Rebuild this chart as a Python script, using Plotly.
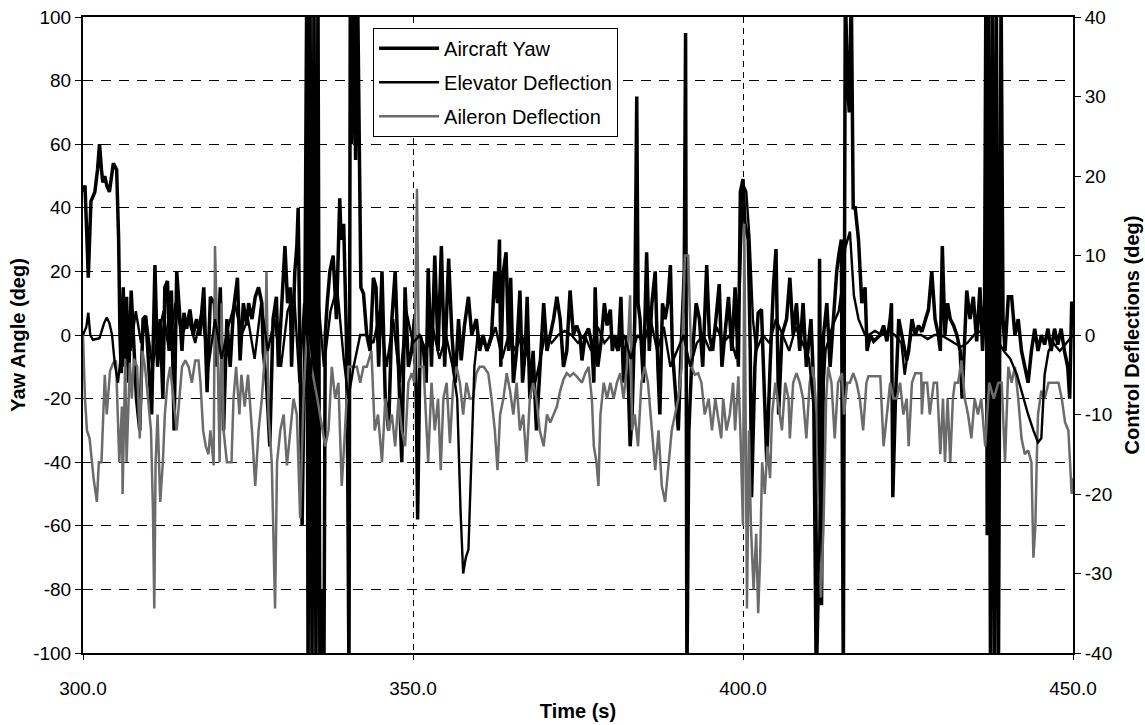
import plotly.graph_objects as go

# ---------------- data ----------------
yaw_t = [300.0,300.3,300.6,300.8,301.2,301.8,302.2,302.5,302.8,303.0,303.3,303.6,304.0,304.3,304.6,305.1,305.4,305.6,305.8,306.1,
 306.3,306.6,306.9,307.3,307.7,308.1,308.6,309.1,309.5,309.9,310.4,310.9,311.3,311.7,312.1,312.4,312.8,313.1,313.4,313.8,
 314.2,314.6,315.0,315.3,315.7,316.2,316.7,317.2,317.7,318.3,318.8,319.3,319.9,320.3,320.8,321.3,321.8,322.3,322.8,323.4,
 323.8,324.3,324.8,325.1,325.6,326.1,326.6,327.1,327.3,327.8,328.3,328.8,329.3,329.6,330.1,330.6,331.0,331.4,331.6,332.1,
 332.4,332.6,332.9,333.2,333.6,333.9,334.1,334.4,334.7,335.0,335.3,335.6,335.9,336.2,336.5,336.7,337.0,337.4,337.9,338.4,
 338.9,339.1,339.5,339.9,340.1,340.3,340.5,340.7,341.0,341.3,341.6,341.9,342.1,342.5,343.0,343.5,344.0,344.4,344.8,345.3,
 345.8,346.3,346.8,347.3,347.8,348.3,348.8,349.3,349.8,350.2,350.5,350.7,351.1,351.6,352.0,352.3,352.8,353.3,353.8,354.3,
 354.8,355.4,355.9,356.4,356.9,357.3,357.8,358.4,358.9,359.6,360.1,360.6,361.2,361.9,362.4,362.8,363.1,363.3,363.7,364.1,
 364.5,364.8,365.2,365.7,366.2,366.6,367.0,367.3,367.7,368.2,368.7,369.2,369.8,370.3,370.8,371.3,371.8,372.3,372.8,373.3,
 373.8,374.3,374.8,375.3,375.6,376.1,376.6,377.1,377.4,377.6,378.0,378.5,379.0,379.4,379.9,380.2,380.6,381.1,381.5,381.9,
 382.4,382.9,383.2,383.6,383.9,384.1,384.4,384.9,385.4,385.8,386.2,386.7,387.1,387.4,387.8,388.2,388.6,389.0,389.3,389.7,
 390.2,390.7,391.1,391.3,391.5,391.8,392.2,392.9,393.4,393.9,394.5,394.9,395.4,395.9,396.4,396.8,397.8,398.3,398.8,399.3,
 399.6,400.0,400.3,400.8,401.1,401.3,401.8,402.3,402.8,403.1,403.6,404.1,404.6,405.0,405.4,405.9,406.6,407.1,407.6,408.1,
 408.6,409.1,409.6,410.3,410.7,411.1,411.4,411.6,411.9,412.2,412.7,413.2,413.7,414.2,414.5,414.9,415.2,415.5,415.8,416.1,
 416.4,416.7,417.0,417.5,418.0,418.5,418.8,419.3,419.8,420.8,421.3,421.8,422.3,422.5,422.7,423.1,423.6,424.1,424.8,425.1,
 425.6,426.1,426.6,427.1,427.6,428.1,428.6,429.1,429.6,429.9,430.2,430.6,431.0,431.4,431.9,432.4,432.9,433.2,433.9,434.4,
 434.9,435.4,435.9,436.3,436.6,436.8,437.0,437.2,437.5,437.8,438.1,438.4,438.7,439.1,439.4,439.7,440.2,440.7,441.2,441.7,
 442.2,442.7,443.2,443.7,444.2,444.7,445.2,445.7,446.2,446.7,447.2,447.7,448.2,448.7,449.2,449.5,449.8,450.0]
yaw_deg = [45,47,30,18,42,45,52,60,52,48,50,47,45,50,54,52,30,0,-12,15,
 -10,12,-15,14,-5,-20,-30,5,6,-10,-25,22,-10,5,-20,15,17,-5,14,-30,
 20,8,-5,7,2,8,0,5,0,15,-18,12,10,-10,15,-30,5,-10,8,18,
 -8,10,3,10,5,12,15,10,-5,-15,-35,5,12,-10,8,28,10,15,-10,20,
 28,40,-10,-60,0,110,-110,110,-110,110,-110,110,-110,-80,-110,0,10,20,25,5,
 43,30,35,0,-40,-110,110,60,110,55,110,52,15,13,0,-5,18,15,-10,20,
 -20,-30,5,20,-10,-40,15,-10,-5,5,-20,-58,0,-5,-15,21,-10,25,-5,28,
 -10,24,0,-15,5,-8,3,12,0,5,-5,0,-5,0,20,10,30,-10,20,26,
 -5,18,-15,-5,14,-15,-5,12,-20,-5,-30,-10,10,-5,0,5,12,5,-10,-5,
 14,0,3,0,-8,0,2,-3,-15,15,-10,-2,10,3,8,-5,0,-5,12,-15,
 0,-35,-25,5,75,10,5,-15,26,-5,10,20,-10,-25,10,5,10,22,-5,-15,
 -30,0,20,95,-110,-30,-10,10,5,-10,22,0,-5,5,16,-10,12,-5,15,-10,
 45,49,35,30,-5,-51,-10,7,8,-10,-40,-10,15,27,-25,0,5,18,0,10,
 -5,10,-10,5,-15,-110,-80,24,-85,0,10,-10,5,20,25,30,-110,110,80,70,
 110,40,40,30,10,15,-5,0,-2,0,3,-2,5,10,-51,-20,5,0,-8,-5,
 5,0,3,1,5,8,20,5,0,-5,28,0,10,5,3,0,-5,-20,14,5,
 12,-2,15,-5,10,110,-63,110,-110,110,-110,110,-110,110,5,-5,12,12,0,5,
 -5,-10,-15,-5,2,-5,0,-3,2,-5,2,-3,2,-5,-10,-20,10,10]

elev_t = [300.0,300.5,300.8,301.1,301.5,302.5,303.2,303.6,304.0,304.4,304.8,305.3,305.8,306.5,307.2,308.0,308.8,309.6,310.5,311.4,
 312.2,313.0,314.0,315.0,316.0,317.0,318.0,319.0,320.0,321.0,322.0,323.0,324.0,325.0,326.0,327.0,328.0,329.0,330.0,331.0,
 332.0,332.8,333.5,334.5,335.5,336.5,337.5,338.5,339.5,340.2,341.0,342.0,343.0,344.0,345.0,346.0,347.0,348.0,349.0,350.0,
 351.0,352.0,353.0,354.0,355.0,356.0,356.7,357.2,357.6,358.0,358.4,358.8,359.3,359.8,360.5,361.5,362.5,363.5,364.5,365.5,
 366.5,367.5,368.5,369.3,370.0,371.0,372.0,373.0,374.0,375.0,376.0,377.0,378.0,379.0,380.0,381.0,382.0,383.0,384.0,385.0,
 386.0,387.0,388.0,389.0,390.0,391.0,392.0,393.0,394.0,395.0,396.0,397.0,398.0,399.0,399.5,400.0,400.5,401.0,401.5,402.0,
 403.0,404.0,405.0,406.0,407.0,408.0,409.0,410.0,410.8,411.3,411.6,412.0,412.5,413.5,414.5,415.0,415.5,416.2,416.8,417.5,
 418.5,419.0,420.0,421.0,422.0,423.0,424.0,424.5,425.0,425.5,426.0,427.0,428.0,429.0,430.0,431.0,432.0,433.0,434.0,435.0,
 436.0,437.0,438.0,438.8,439.5,440.5,441.5,442.5,443.2,444.0,444.7,445.2,445.7,446.3,447.0,448.0,449.0,450.0]
elev_deg = [0,1,2.8,0,-0.6,-0.4,1.5,2.2,1.5,0,-3.5,-6,-2,1,-2,3,-1,2,-4,0,
 3,-2,4,0,2,-1,3,-4,2,-3,1,4,0,2,-3,4,-2,2,-4,3,
 5,-6,4,-5,6,-4,3,6,-3,-8,-4,0,0,-1,3,-4,2,-6,3,-1,
 0,-2,1,-3,0,-4,-8,-22,-30,-28,-27,-16,-4,0,-1,-1.5,1,-3,0,-2,
 0,-3,-6,-3,0,-1,0,0.5,0,-1,0,-2,1,-1,0,-2,0,-3,0,-1,
 2,-2,1,-4,-2,0,-4,-1,0,-2,1,-1,0,-3,6,19,18,12,2,-2,
 0,-1,2,0,-2,1,-1,-3,-10,-33,-25,-10,-2,1,3,6,11,13,5,2,
 0,0,0.5,0,0.5,0,-1,-5,-2,0,0,0,-0.5,0,0,-0.5,-1,-1.5,-1,0,
 0.5,2,4,-1,-2,-3,-5,-8,-10,-12,-13.5,-13,-5,-2,-1,-2,-1,0]

ail_t = [300.0,300.3,300.6,301.0,301.6,302.1,302.4,302.8,303.3,303.6,304.1,304.6,305.0,305.5,305.9,306.0,306.4,306.6,307.1,307.4,
 307.7,308.2,308.6,309.0,309.4,309.9,310.3,310.6,310.8,311.0,311.3,311.7,312.1,312.4,312.8,313.2,313.7,314.2,314.6,315.0,
 315.5,316.0,316.5,317.0,317.5,317.8,318.2,318.6,319.0,319.3,319.8,320.0,320.4,320.7,321.0,321.3,321.8,322.5,322.8,323.2,
 323.7,324.0,324.5,325.0,325.6,326.1,326.6,327.1,327.6,327.8,328.1,328.6,329.1,329.4,329.9,330.4,330.9,331.4,331.9,332.4,
 332.9,333.4,333.9,334.6,335.5,336.7,337.2,337.7,338.2,338.7,339.2,339.7,340.2,340.7,341.5,342.0,342.5,343.0,343.7,344.2,
 344.7,345.3,345.8,346.3,346.8,347.3,347.8,348.3,348.8,349.3,349.8,350.2,350.6,350.9,351.6,352.3,352.8,353.3,353.8,354.2,
 354.6,355.1,355.6,356.1,356.6,357.1,357.6,358.1,358.6,359.1,359.6,360.1,360.7,361.4,361.9,362.4,362.8,363.2,363.7,364.2,
 364.7,365.2,365.7,366.2,366.7,367.2,367.7,368.2,368.7,369.2,369.8,370.3,370.8,371.3,371.8,372.3,372.8,373.3,373.8,374.3,
 374.8,375.6,376.1,376.6,377.1,377.4,377.8,378.1,378.4,378.9,379.4,379.9,380.4,380.9,381.4,381.9,382.4,382.9,383.2,383.6,
 384.1,384.6,385.1,385.6,386.2,386.7,387.2,387.7,388.2,388.7,389.2,389.7,390.2,390.7,391.2,391.7,392.2,392.7,393.2,393.7,
 394.2,394.8,395.3,395.8,396.2,396.7,397.0,397.5,398.0,398.5,398.8,399.3,399.6,399.8,400.0,400.2,400.4,400.6,400.9,401.2,
 401.6,402.0,402.3,402.6,402.9,403.3,403.7,404.1,404.4,404.9,405.4,405.9,406.4,406.9,407.1,407.6,408.1,408.6,409.1,409.6,
 410.1,410.6,411.0,411.4,411.8,412.2,412.6,412.9,413.4,413.9,414.4,415.0,415.3,415.8,416.2,416.7,417.2,417.7,418.2,418.7,
 419.0,420.8,421.3,421.8,422.3,422.8,423.3,423.8,424.3,424.8,425.1,425.6,426.1,427.0,427.1,427.4,427.9,428.3,428.9,429.4,
 429.9,430.3,430.6,431.0,431.4,431.8,432.1,432.6,433.1,433.6,434.1,434.6,435.1,435.6,436.1,436.7,437.3,438.0,438.7,439.2,
 439.7,440.2,440.7,441.2,441.7,442.2,442.7,443.2,443.7,444.0,444.3,444.5,444.7,445.2,445.7,446.3,446.8,447.3,447.8,448.3,
 448.8,449.3,449.8,450.0]
ail_deg = [0,-8,-12,-13,-18,-21,-16,-16,-5,-10,-4.5,-3.5,-3.2,-16,-9,-20,-3,-16,-3.5,-8,
 -3,-4,-13,-2,-4,-9,-12,-22,-34.4,-16,-10,-21,-16,-10,-6,-4,-8,-12,-8,-4,
 -3.2,-4,-6,-3.2,-3.2,-6,-12,-14,-15,-12,-16.4,11.2,-2,-16,4,-12,-16,-16,-8,-4,
 -10,-5,-9,-5,-12,-19,-12,-8,-2,8,-10,-16,-34.4,-16,-12,-10,-16.4,-12,-8,-10,
 -23,-8,0,-4,-8,-14,-12,-4,-8,-6,-19,-12,-4,-4,-4,-6,-4,-4,-2,-12,
 -10,-16,-8,-12,-10,-14,-8,-12,-14,-6,-4.8,-6,18.4,-4,-4,-16,-6,-12,-8,-17,
 -8,-6,-13.6,-6,-4,-6,-10,-6,-8,-8,-4.8,-4,-4,-4.8,-8,-12,-17,-10,-8,-4.8,
 -7,-10,-6,-12,-10,-16,-8,-6,-8,-12,-14,-10,-11,-10,-9,-7,-5.6,-4.8,-5.2,-4.8,
 -5.2,-6,-4.8,-4,-8,-14,-16,-19,-10,-6,-8,-6,-8,-6,-4.8,-8,-4,5,-12,-10,
 -14,-6,-4,-6,-12,-17,-12,-19,-21,-16,-12,-10,-8,-4,10,10,-4,-5,-4.8,-6,
 -10,-8,-12,-8,-10,-13,-8,-12,-10,-6,-12,-5.2,-12,-20,-24,14,-10,-34.4,-12,-24,
 -32,-25,-35,-28,-16,-20,-14,-18,-10,-6,-9,-12,-6,-8,-13,-6,-4.8,-6,-8,-13,
 -6,-4,-8,-24,-33,-24,-8,-4,-6,-13,-6,-4.8,-10,-6,-6,-4.8,-6,-8,-12,-6,
 -5.2,-5.2,-14,-10,-6,-8,-8,-6,-10,-8,-14,-6,-4.8,-4.8,-10,-6,-6,-10,-6,-6,
 -15,-8,-16,-8,-16,-8,-6,-6,-3.2,-8,-10,-13,-8,-10,-8,-14,-6,-8,-6,-6,
 -16,-4,-6,-4,-8,-13,-15,-14.5,-16,-28,-24,-16,-10,-7,-8,-6,-6,-6,-6,-8,
 -11,-12,-20,-18]

series_names = ["Aircraft Yaw", "Elevator Deflection", "Aileron Deflection"]
x_ticks = [300, 350, 400, 450]
x_tick_labels = ["300.0", "350.0", "400.0", "450.0"]
yaw_ticks = [-100, -80, -60, -40, -20, 0, 20, 40, 60, 80, 100]
defl_ticks = [-40, -30, -20, -10, 0, 10, 20, 30, 40]

# ---------------- figure ----------------
FONT = "Liberation Sans, Arial, sans-serif"
TICKFONT = dict(family=FONT, size=19, color="black")
TITLEFONT = dict(family=FONT, size=20, color="black")
fig = go.Figure()

fig.add_trace(go.Scatter(x=ail_t, y=ail_deg, yaxis="y2", mode="lines", name=series_names[2],
                         line=dict(color="#6b6b6b", width=2.5), legendrank=3, legendgroup="c"))
fig.add_trace(go.Scatter(x=elev_t, y=elev_deg, yaxis="y2", mode="lines", name=series_names[1],
                         line=dict(color="#000000", width=2.4), legendrank=2, legendgroup="b"))
fig.add_trace(go.Scatter(x=yaw_t, y=yaw_deg, mode="lines", name=series_names[0],
                         line=dict(color="#000000", width=3.5), legendrank=1, legendgroup="a"))

fig.update_layout(
    width=1145, height=725,
    margin=dict(l=83, r=72, t=17, b=72),
    paper_bgcolor="white", plot_bgcolor="white",
    font=dict(family=FONT, size=19, color="black"),
    showlegend=True,
    legend=dict(x=0.293, y=0.983, xanchor="left", yanchor="top",
                bgcolor="white", bordercolor="black", borderwidth=1,
                font=dict(family=FONT, size=20, color="black"), traceorder="grouped",
                tracegroupgap=5, itemwidth=60),
    xaxis=dict(range=[300, 450], tickvals=x_ticks, ticktext=x_tick_labels, tickfont=TICKFONT,
               showline=True, linecolor="black", linewidth=2, mirror=True,
               ticks="outside", ticklen=5, tickcolor="black", ticklabelstandoff=12,
               showgrid=True, gridcolor="black", gridwidth=1, griddash="6px,5px",
               zeroline=False, automargin=False,
               title=dict(text="<b>Time (s)</b>", font=TITLEFONT, standoff=6)),
    yaxis=dict(range=[-100, 100], tickvals=yaw_ticks, ticktext=[str(v) for v in yaw_ticks],
               tickfont=TICKFONT,
               showline=True, linecolor="black", linewidth=2, mirror=False,
               ticks="outside", ticklen=6, tickcolor="black",
               showgrid=True, gridcolor="black", gridwidth=1, griddash="10px,8px",
               zeroline=True, zerolinecolor="black", zerolinewidth=1,
               automargin=False,
               title=dict(text="<b>Yaw Angle (deg)</b>", font=TITLEFONT, standoff=2)),
    yaxis2=dict(range=[-40, 40], tickvals=defl_ticks, ticktext=[str(v) for v in defl_ticks],
                tickfont=TICKFONT, overlaying="y", side="right",
                showline=True, linecolor="black", linewidth=2,
                ticks="outside", ticklen=6, tickcolor="black",
                showgrid=False, zeroline=False, automargin=False,
                title=dict(text="<b>Control Deflections (deg)</b>", font=TITLEFONT, standoff=14)),
)

fig.write_html("out.html")
